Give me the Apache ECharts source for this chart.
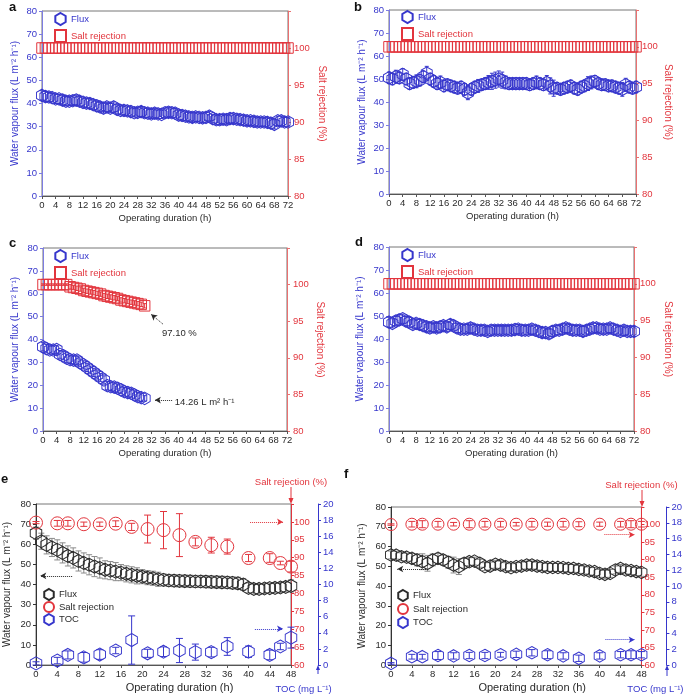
<!DOCTYPE html>
<html>
<head>
<meta charset="utf-8">
<title>Flux and salt rejection</title>
<script src="https://cdn.jsdelivr.net/npm/echarts@6/dist/echarts.min.js"></script>
<style>
html, body { margin: 0; padding: 0; background: #fff; }
#main { width: 685px; height: 695px; }
</style>
</head>
<body>
<div id="main"></div>
<script>
// hours on the x axis
var hours72 = [0,1,2,3,4,5,6,7,8,9,10,11,12,13,14,15,16,17,18,19,20,21,22,23,24,25,26,27,28,29,30,31,32,33,34,35,
	36,37,38,39,40,41,42,43,44,45,46,47,48,49,50,51,52,53,54,55,56,57,58,59,60,61,62,63,64,65,66,67,68,69,70,71,72];
var hours30 = [0,1,2,3,4,5,6,7,8,9,10,11,12,13,14,15,16,17,18,19,20,21,22,23,24,25,26,27,28,29,30];
var hours48 = [0,1,2,3,4,5,6,7,8,9,10,11,12,13,14,15,16,17,18,19,20,21,22,23,24,25,26,27,28,29,30,31,32,33,34,35,
	36,37,38,39,40,41,42,43,44,45,46,47,48];
var sampleHoursE = [0,4,6,9,12,15,18,21,24,27,30,33,36,40,44,46,48];
var sampleHoursF = [0,4,6,9,12,15,18,21,24,27,30,33,36,40,44,46,48];

// panel a
var fluxA = [43.5,43.0,42.8,42.5,42.0,42.0,41.5,41.0,41.0,41.2, 41.5,41.0,40.5,40.2,40.0,39.5,39.0,38.5,38.0,38.5,
	38.0,38.5,37.5,37.0,37.0,36.8,36.5,36.0,36.2,36.5, 36.0,35.8,35.5,35.8,35.5,35.3,36.0,36.2,36.0,35.8,
	35.0,34.8,34.5,34.2,34.0,34.2,34.0,33.8,34.0,34.5, 33.5,33.0,33.0,33.2,33.0,33.5,33.5,33.2,33.0,32.8,
	32.5,32.5,32.3,32.0,32.0,32.0,31.8,31.5,31.0,32.5, 32.5,32.0,32.0];
var fluxErrA = [2.0,2.2,2.0,1.8,2.0,2.0,2.1,2.0,1.8,2.0, 2.2,2.0,1.9,2.0,2.1,2.0,1.8,2.0,2.2,2.0,
	2.0,2.2,2.0,1.9,2.0,2.1,2.0,1.8,2.0,2.2, 2.0,1.9,2.0,2.1,2.0,1.8,2.0,2.2,2.0,2.0,
	2.1,2.0,1.8,2.0,2.2,2.0,1.9,2.0,2.1,2.0, 1.8,2.0,2.2,2.0,2.0,2.1,2.0,1.8,2.0,2.2,
	2.0,1.9,2.0,2.1,2.0,1.8,2.0,2.2,2.0,2.0, 2.1,2.0,1.8];
// salt rejection stays at 100 % in a, b and d
var saltABD = [100,100,100,100,100,100,100,100,100,100, 100,100,100,100,100,100,100,100,100,100,
	100,100,100,100,100,100,100,100,100,100, 100,100,100,100,100,100,100,100,100,100,
	100,100,100,100,100,100,100,100,100,100, 100,100,100,100,100,100,100,100,100,100,
	100,100,100,100,100,100,100,100,100,100, 100,100,100];

// panel b
var fluxB = [50.5,50.0,51.0,50.5,52.0,50.0,48.0,48.5,49.0,49.5, 51.0,52.5,50.0,49.0,48.0,48.5,47.0,47.5,47.0,46.5,
	46.0,46.5,45.5,44.0,45.5,46.5,47.0,47.5,48.0,48.5, 49.0,49.5,50.0,49.5,48.5,48.0,48.0,48.0,48.0,48.0,
	48.0,47.5,48.0,48.5,48.0,47.5,48.5,47.0,46.0,46.0, 45.5,46.0,46.5,47.0,46.0,45.5,46.5,47.0,48.0,48.5,
	49.0,48.0,47.5,47.5,47.0,47.0,46.5,46.0,45.5,47.5, 46.5,46.0,46.5];
var fluxErrB = [2.5,2.5,2.8,2.5,2.5,2.5,2.5,2.5,2.8,2.5, 2.5,3.0,2.5,2.5,2.5,2.8,2.5,2.5,2.5,2.5,
	2.5,2.5,2.5,3.0,2.5,2.5,2.8,2.5,2.5,3.0, 3.5,3.5,3.5,3.5,2.8,2.5,2.5,2.5,2.5,2.5,
	2.5,2.5,2.5,2.8,2.5,2.5,3.0,3.5,3.5,2.5, 2.5,2.5,2.5,2.5,2.5,2.5,2.5,2.5,3.0,2.8,
	2.5,2.5,2.5,2.5,2.5,2.5,2.5,2.5,3.0,2.8, 2.5,2.5,2.5];

// panel c
var fluxC = [36.8,36.0,35.4,35.4,35.6,33.5,32.9,31.8,31.2,31.0, 31.0,29.8,28.9,27.8,26.7,25.6,24.5,23.4,22.3,19.8,
	19.4,19.2,18.7,18.0,17.2,16.8,16.5,15.8,15.0,14.6, 14.26];
var fluxErrC = [1.8,1.8,1.7,1.8,1.8,1.7,1.8,1.8,1.7,1.8, 1.8,1.7,1.8,1.8,1.7,1.8,1.8,1.7,1.8,1.8,
	1.7,1.8,1.8,1.7,1.8,1.8,1.7,1.8,1.8,1.7, 1.2];
var saltC = [100,100,100,100,100,100,100,100,99.7,99.6, 99.5,99.4,99.2,99.1,99.0,98.9,98.8,98.7,98.5,98.4,
	98.3,98.2,98.1,97.9,97.8,97.7,97.6,97.5,97.4,97.3, 97.1];
var saltErrC = [0.1,0.1,0.1,0.1,0.1,0.1,0.1,0.1,0.3,0.3, 0.3,0.3,0.3,0.3,0.3,0.3,0.3,0.3,0.3,0.3,
	0.3,0.3,0.3,0.3,0.3,0.3,0.3,0.3,0.3,0.3, 0.3];

// panel d
var fluxD = [47.3,46.8,47.8,48.3,48.8,47.8,47.3,46.3,46.8,46.3, 45.8,45.3,44.8,45.3,44.8,45.3,45.8,45.3,46.3,45.8,
	44.8,44.3,44.3,44.3,44.8,44.3,43.8,43.8,43.8,43.3, 43.8,43.8,43.8,43.8,43.8,43.8,43.8,44.1,44.3,43.8,
	43.8,43.8,44.3,43.8,43.3,42.8,42.8,42.3,43.3,43.8, 43.8,44.3,44.8,44.3,43.8,43.8,43.8,43.3,43.8,44.3,
	44.8,44.8,44.3,44.3,44.3,44.8,44.3,43.8,43.3,43.8, 43.3,43.3,43.3];
var fluxErrD = [2.2,2.0,2.0,2.2,2.0,2.0,2.2,2.0,2.0,2.2, 2.0,2.0,2.2,2.0,2.0,2.2,2.0,2.0,2.2,2.0,
	2.0,2.2,2.0,2.0,2.2,2.0,2.0,2.2,2.0,2.0, 2.2,2.0,2.0,2.2,2.0,2.0,2.2,2.0,2.0,2.2,
	2.0,2.0,2.2,2.0,2.0,2.2,2.0,2.0,2.2,2.0, 2.0,2.2,2.0,2.0,2.2,2.0,2.0,2.2,2.0,2.0,
	2.2,2.0,2.0,2.2,2.0,2.0,2.2,2.0,2.0,2.2, 2.0,2.0,2.2];

// panel e
var fluxE = [65.5,61.5,59.7,58.4,57.2,55.7,54.2,53.2,51.7,50.7, 49.8,48.9,48.2,47.3,46.9,46.4,45.9,45.3,44.8,44.3,
	43.9,43.4,43.1,42.6,42.3,42.0,41.9,41.8,41.7,41.6, 41.5,41.5,41.4,41.3,41.2,41.1,41.0,40.8,40.6,40.0,
	38.3,37.8,37.8,38.0,38.2,38.3,38.5,38.8,39.3];
var fluxErrE = [3.0,4.0,4.5,4.5,5.0,5.0,5.0,5.0,5.0,5.0, 5.0,5.0,5.0,4.5,4.5,4.5,4.0,4.0,4.0,4.0,
	3.5,3.5,3.5,3.5,3.0,3.0,3.0,3.0,3.0,3.0, 3.0,3.0,3.0,3.0,3.0,3.0,3.0,3.0,3.0,3.0,
	2.5,2.5,2.5,2.5,2.5,2.5,2.5,2.5,3.0];
var saltE = [99.8,99.6,99.6,99.35,99.35,99.5,98.6,98.0,97.7,96.3,94.4,93.5,93.1,89.9,89.9,88.5,87.5];
var saltErrE = [0.3,0.8,0.8,0.6,0.6,0.8,1.0,3.9,5.2,6.0,1.1,2.2,2.1,1.0,1.2,0.5,1.5];
var tocE = [0.2,0.55,1.25,0.95,1.3,1.8,3.1,1.45,1.65,1.8,1.6,1.6,2.3,1.65,1.25,2.3,3.4];
var tocErrE = [0.2,0.4,0.5,0.6,0.6,0.4,3.0,0.5,0.6,1.5,1.0,0.6,1.1,0.7,0.6,0.4,1.3];

// panel f
var fluxF = [55.7,55.6,54.8,54.6,54.0,53.2,52.3,51.5,53.2,54.0, 53.2,52.0,50.6,49.8,51.5,52.3,52.6,51.5,49.8,50.1,
	51.0,50.6,49.8,49.3,49.8,50.1,50.6,50.6,50.1,49.8, 49.4,49.4,49.4,49.3,48.9,48.9,48.4,48.1,47.6,47.3,
	46.4,45.9,46.4,48.1,48.9,48.1,47.8,47.3,46.9];
var fluxErrF = [2.0,2.0,2.0,2.0,2.5,3.0,4.0,4.0,3.0,2.5, 2.5,3.0,4.0,4.0,2.5,2.0,2.0,2.0,2.0,2.0,
	2.0,2.0,2.0,2.0,2.0,2.0,2.0,2.0,2.0,2.0, 2.0,2.0,2.0,2.0,2.0,2.0,2.0,2.0,2.0,2.0,
	2.0,2.0,2.0,2.0,2.0,2.0,2.0,2.0,2.0];
var saltF = [100,100.1,100.1,100.1,100.1,100.1,100.1,100.1,100.1,100.1,100.1,100.1,100.1,100.1,100.1,100.1,100.1];
var saltErrF = [0.2,0.8,1.0,0.8,0.5,1.0,0.8,0.8,0.5,0.8,0.6,0.8,0.7,0.6,0.8,1.0,0.8];
var tocF = [0.2,1.05,1.05,1.2,1.15,1.2,1.2,1.3,1.35,1.55,1.3,1.15,0.85,1.15,1.3,1.3,1.3];
var tocErrF = [0.1,0.3,0.3,0.5,0.4,0.4,0.4,0.3,0.4,0.4,0.5,0.4,0.4,0.4,0.4,0.5,0.4];

var BLUE = '#3636cc';
var BLUE_LINE = '#7d7de2';
var RED = '#e2353d';
var RED_LINE = '#ea7070';
var DARK = '#2a2a2a';
var HEX = 'path://M5,0 L10,2.9 L10,8.7 L5,11.6 L0,8.7 L0,2.9 Z';
var FONT = '"Liberation Sans", Arial, sans-serif';

function pairs(xs, ys) {
	return xs.map(function (x, i) { return [x, ys[i]]; });
}
function bars(xs, ys, es) {
	return xs.map(function (x, i) { return [x, ys[i] - es[i], ys[i] + es[i]]; });
}

function errorSeries(xi, yi, data, color, cap) {
	return {
		type: 'custom', xAxisIndex: xi, yAxisIndex: yi, data: data, silent: true, z: 2,
		encode: { x: 0, y: [1, 2] },
		renderItem: function (params, api) {
			var x = api.value(0);
			var lo = api.coord([x, api.value(1)]);
			var hi = api.coord([x, api.value(2)]);
			var st = { stroke: color, lineWidth: 1 };
			return {
				type: 'group',
				children: [
					{ type: 'line', shape: { x1: hi[0], y1: hi[1], x2: lo[0], y2: lo[1] }, style: st },
					{ type: 'line', shape: { x1: hi[0] - cap, y1: hi[1], x2: hi[0] + cap, y2: hi[1] }, style: st },
					{ type: 'line', shape: { x1: lo[0] - cap, y1: lo[1], x2: lo[0] + cap, y2: lo[1] }, style: st }
				]
			};
		}
	};
}

function markerSeries(name, xi, yi, data, symbol, size, color) {
	return {
		type: 'scatter', name: name, xAxisIndex: xi, yAxisIndex: yi, data: data,
		symbol: symbol, symbolSize: size, silent: true, z: 3,
		itemStyle: { color: 'rgba(255,255,255,0)', borderColor: color, borderWidth: 1, opacity: 1 }
	};
}

function arrowLine(from, to, color) {
	return {
		silent: true, symbol: ['none', 'arrow'], symbolSize: [5, 6], label: { show: false },
		lineStyle: { color: color, type: 'dotted', width: 1 },
		data: [[{ coord: from }, { coord: to }]]
	};
}

function textMark(coord, text) {
	return {
		silent: true, symbol: 'circle', symbolSize: 0,
		label: { show: true, position: 'right', distance: 0, formatter: text, fontSize: 9.5, color: DARK },
		data: [{ coord: coord }]
	};
}

function xAxisOf(grid, max, nameSize, namePad) {
	return {
		type: 'value', gridIndex: grid, min: 0, max: max, interval: 4,
		name: 'Operating duration (h)', nameLocation: 'middle', nameGap: 17,
		nameTextStyle: { color: DARK, fontSize: nameSize, padding: [0, 0, 0, namePad] },
		axisLine: { lineStyle: { color: '#555' } },
		axisTick: { length: 3, lineStyle: { color: '#555' } },
		axisLabel: { color: DARK, fontSize: 9.5, margin: 4 },
		splitLine: { show: false }
	};
}

function fluxAxis(grid, lineColor, labelColor, gap) {
	return {
		type: 'value', gridIndex: grid, position: 'left', min: 0, max: 80, interval: 10,
		name: 'Water vapour flux (L m\u207b\u00b2 h\u207b\u00b9)', nameLocation: 'middle', nameGap: gap,
		nameTextStyle: { color: labelColor, fontSize: 10 },
		axisLine: { show: true, lineStyle: { color: lineColor } },
		axisTick: { show: true, length: 3, lineStyle: { color: lineColor } },
		axisLabel: { color: labelColor, fontSize: 9.5, margin: 5 },
		splitLine: { show: false }
	};
}

function saltAxis(grid, gap) {
	return {
		type: 'value', gridIndex: grid, position: 'right', min: 80, max: 105, interval: 5,
		name: 'Salt rejection (%)', nameLocation: 'middle', nameRotate: -90, nameGap: gap,
		nameTextStyle: { color: RED, fontSize: 10 },
		axisLine: { show: true, lineStyle: { color: RED_LINE } },
		axisTick: { show: true, length: 3, lineStyle: { color: RED_LINE } },
		axisLabel: { color: RED, fontSize: 9.5, margin: 6, formatter: function (v) { return v > 100 ? '' : v; } },
		splitLine: { show: false }
	};
}

function saltAxisTop(grid) {
	return {
		type: 'value', gridIndex: grid, position: 'right', min: 60, max: 105, interval: 5,
		name: 'Salt rejection (%)', nameLocation: 'end', nameGap: 17,
		nameTextStyle: { color: RED, fontSize: 9.5 },
		axisLine: { show: true, lineStyle: { color: RED } },
		axisTick: { show: true, length: 3, lineStyle: { color: RED } },
		axisLabel: { color: RED, fontSize: 9.5, margin: 3, formatter: function (v) { return v > 100 ? '' : v; } },
		splitLine: { show: false }
	};
}

function tocAxis(grid, offset, padRight) {
	return {
		type: 'value', gridIndex: grid, position: 'right', offset: offset, min: 0, max: 20, interval: 2,
		name: 'TOC (mg L\u207b\u00b9)', nameLocation: 'start', nameGap: 19,
		nameTextStyle: { color: BLUE, fontSize: 9.5, padding: [0, padRight, 0, 0] },
		axisLine: { show: true, lineStyle: { color: BLUE } },
		axisTick: { show: true, length: 3, lineStyle: { color: BLUE } },
		axisLabel: { color: BLUE, fontSize: 9.5, margin: 5 },
		splitLine: { show: false }
	};
}

function legendOf(left, top, items, size, gap) {
	return {
		left: left, top: top, orient: 'vertical', padding: 0, itemGap: gap,
		itemWidth: size, itemHeight: size + 1, selectedMode: false,
		formatter: function (n) { return n.split('|')[0]; },
		textStyle: { fontSize: 9.5 },
		data: items
	};
}

function panelTitle(text, left, top) {
	return { text: text, left: left, top: top, padding: 0,
		textStyle: { fontSize: 13, fontWeight: 'bold', color: '#111', fontFamily: FONT } };
}

var grids = [
	{ left: 42, top: 11, width: 246, height: 185 },
	{ left: 389, top: 10, width: 247, height: 184 },
	{ left: 43, top: 248, width: 244, height: 183 },
	{ left: 389, top: 247, width: 245, height: 184 },
	{ left: 36, top: 504, width: 255, height: 161 },
	{ left: 391, top: 507, width: 251, height: 158 }
].map(function (g) {
	g.show = true;
	g.borderColor = '#777';
	g.borderWidth = 1;
	return g;
});

var series = [
	// a
	errorSeries(0, 0, bars(hours72, fluxA, fluxErrA), BLUE, 2),
	markerSeries('Flux|a', 0, 0, pairs(hours72, fluxA), HEX, [11, 12.5], BLUE),
	markerSeries('Salt rejection|a', 0, 1, pairs(hours72, saltABD), 'rect', 10.5, RED),
	// b
	errorSeries(1, 2, bars(hours72, fluxB, fluxErrB), BLUE, 2),
	markerSeries('Flux|b', 1, 2, pairs(hours72, fluxB), HEX, [11, 12.5], BLUE),
	markerSeries('Salt rejection|b', 1, 3, pairs(hours72, saltABD), 'rect', 10.5, RED),
	// c
	errorSeries(2, 4, bars(hours30, fluxC, fluxErrC), BLUE, 2),
	Object.assign(markerSeries('Flux|c', 2, 4, pairs(hours30, fluxC), HEX, [11, 12.5], BLUE), {
		markLine: arrowLine([38.1, 13.5], [33.0, 13.5], DARK),
		markPoint: textMark([38.9, 12.7], '14.26 L m\u00b2 h\u207b\u00b9')
	}),
	errorSeries(2, 5, bars(hours30, saltC, saltErrC), RED, 2),
	Object.assign(markerSeries('Salt rejection|c', 2, 5, pairs(hours30, saltC), 'rect', 10.5, RED), {
		markLine: arrowLine([35.4, 94.6], [31.9, 95.95], DARK),
		markPoint: textMark([35.1, 93.4], '97.10 %')
	}),
	// d
	errorSeries(3, 6, bars(hours72, fluxD, fluxErrD), BLUE, 2),
	markerSeries('Flux|d', 3, 6, pairs(hours72, fluxD), HEX, [11, 12.5], BLUE),
	markerSeries('Salt rejection|d', 3, 7, pairs(hours72, saltABD), 'rect', 10.5, RED),
	// e
	errorSeries(4, 8, bars(hours48, fluxE, fluxErrE), '#8a8a8a', 3),
	Object.assign(markerSeries('Flux|e', 4, 8, pairs(hours48, fluxE), HEX, [11.5, 13], DARK), {
		markLine: arrowLine([6.8, 44.3], [0.8, 44.3], DARK)
	}),
	errorSeries(4, 9, bars(sampleHoursE, saltE, saltErrE), RED, 3.5),
	Object.assign(markerSeries('Salt rejection|e', 4, 9, pairs(sampleHoursE, saltE), 'circle', 13, RED), {
		markLine: arrowLine([40.3, 100], [46.5, 100], RED)
	}),
	errorSeries(4, 10, bars(sampleHoursE, tocE, tocErrE), BLUE, 3.5),
	Object.assign(markerSeries('TOC|e', 4, 10, pairs(sampleHoursE, tocE), HEX, [11.5, 13], BLUE), {
		markLine: arrowLine([41.2, 4.5], [46.5, 4.5], BLUE)
	}),
	// f
	errorSeries(5, 11, bars(hours48, fluxF, fluxErrF), '#8a8a8a', 3),
	Object.assign(markerSeries('Flux|f', 5, 11, pairs(hours48, fluxF), HEX, [11, 12.5], DARK), {
		markLine: arrowLine([6.7, 48.6], [1.2, 48.6], DARK)
	}),
	errorSeries(5, 12, bars(sampleHoursF, saltF, saltErrF), RED, 3.5),
	Object.assign(markerSeries('Salt rejection|f', 5, 12, pairs(sampleHoursF, saltF), 'circle', 12, RED), {
		markLine: arrowLine([40.9, 97.1], [46.7, 97.1], RED)
	}),
	errorSeries(5, 13, bars(sampleHoursF, tocF, tocErrF), BLUE, 3.5),
	Object.assign(markerSeries('TOC|f', 5, 13, pairs(sampleHoursF, tocF), HEX, [11, 12.5], BLUE), {
		markLine: arrowLine([41.1, 3.2], [46.7, 3.2], BLUE)
	})
];

function abItems(tag) {
	return [
		{ name: 'Flux|' + tag, icon: HEX, textStyle: { color: BLUE } },
		{ name: 'Salt rejection|' + tag, icon: 'rect', textStyle: { color: RED } }
	];
}
function efItems(tag) {
	return [
		{ name: 'Flux|' + tag, icon: HEX, textStyle: { color: DARK } },
		{ name: 'Salt rejection|' + tag, icon: 'circle', textStyle: { color: DARK } },
		{ name: 'TOC|' + tag, icon: HEX, textStyle: { color: DARK } }
	];
}

var option = {
	animation: false,
	backgroundColor: '#fff',
	textStyle: { fontFamily: FONT },
	title: [
		panelTitle('a', 9, 1), panelTitle('b', 354, 1),
		panelTitle('c', 9, 237), panelTitle('d', 355, 236),
		panelTitle('e', 1, 473), panelTitle('f', 344, 468)
	],
	legend: [
		legendOf(54, 12, abItems('a'), 11, 3),
		legendOf(401, 10, abItems('b'), 11, 3),
		legendOf(54, 249, abItems('c'), 11, 3),
		legendOf(401, 248, abItems('d'), 11, 3),
		legendOf(43, 588, efItems('e'), 10, 0),
		legendOf(397, 589, efItems('f'), 10, 1)
	],
	grid: grids,
	xAxis: [
		xAxisOf(0, 72, 9.5, 0), xAxisOf(1, 72, 9.5, 0), xAxisOf(2, 72, 9.5, 0), xAxisOf(3, 72, 9.5, 0),
		xAxisOf(4, 48, 11, 32), xAxisOf(5, 48, 11, 32)
	],
	yAxis: [
		fluxAxis(0, BLUE_LINE, BLUE, 22), saltAxis(0, 29),
		fluxAxis(1, BLUE_LINE, BLUE, 22), saltAxis(1, 27),
		fluxAxis(2, BLUE_LINE, BLUE, 23), saltAxis(2, 28),
		fluxAxis(3, BLUE_LINE, BLUE, 24), saltAxis(3, 29),
		fluxAxis(4, '#333', DARK, 24), saltAxisTop(4), tocAxis(4, 27, 29),
		fluxAxis(5, '#333', DARK, 24), saltAxisTop(5), tocAxis(5, 25, 22)
	],
	// small arrows on the extra axes of e and f
	graphic: [
		{ type: 'line', shape: { x1: 291, y1: 487, x2: 291, y2: 500 }, style: { stroke: RED } },
		{ type: 'polygon', shape: { points: [[288.5, 498], [293.5, 498], [291, 504]] }, style: { fill: RED } },
		{ type: 'line', shape: { x1: 318, y1: 674, x2: 318, y2: 669 }, style: { stroke: BLUE } },
		{ type: 'polygon', shape: { points: [[316, 670], [320, 670], [318, 665]] }, style: { fill: BLUE } },
		{ type: 'line', shape: { x1: 642, y1: 490, x2: 642, y2: 503 }, style: { stroke: RED } },
		{ type: 'polygon', shape: { points: [[639.5, 501], [644.5, 501], [642, 507]] }, style: { fill: RED } },
		{ type: 'line', shape: { x1: 667, y1: 676, x2: 667, y2: 669 }, style: { stroke: BLUE } },
		{ type: 'polygon', shape: { points: [[665, 670], [669, 670], [667, 665]] }, style: { fill: BLUE } }
	],
	series: series
};

var chart = echarts.init(document.getElementById('main'), null, { renderer: 'canvas' });
chart.setOption(option);
</script>
</body>
</html>
